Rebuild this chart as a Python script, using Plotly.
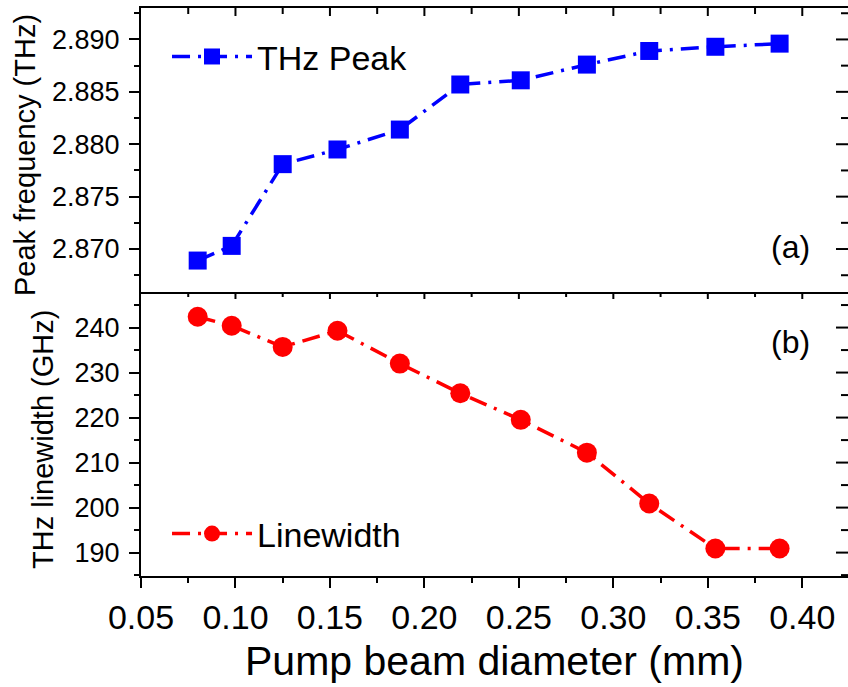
import plotly.graph_objects as go

# ---- data ----
diameter_mm = [0.080, 0.098, 0.125, 0.154, 0.187, 0.219, 0.251, 0.286, 0.319, 0.354, 0.388]
peak_thz = [2.8689, 2.8703, 2.8781, 2.8795, 2.8814, 2.8857, 2.8861, 2.8876, 2.8889, 2.8893, 2.8896]
linewidth_ghz = [242.4, 240.4, 235.7, 239.3, 232.0, 225.4, 219.5, 212.2, 200.9, 190.9, 190.9]

x_ticks = [0.05, 0.10, 0.15, 0.20, 0.25, 0.30, 0.35, 0.40]
x_tick_labels = ["0.05", "0.10", "0.15", "0.20", "0.25", "0.30", "0.35", "0.40"]
peak_ticks = [2.870, 2.875, 2.880, 2.885, 2.890]
peak_tick_labels = ["2.870", "2.875", "2.880", "2.885", "2.890"]
lw_ticks = [190, 200, 210, 220, 230, 240]

x_range = [0.05, 0.4242]
peak_range = [2.8659, 2.8930]
lw_range = [184.8, 247.9]

FONT = "Arial, Liberation Sans, Helvetica, sans-serif"
BLUE = "#0000FF"
RED = "#FF0000"
DASH = "18px,8px,3px,8px"

# plot-area geometry in px (used only to convert tick lengths to domain fractions)
PLOT_W = 707
PANEL_H = 284


def minor_between(ticks, rng):
    step = ticks[1] - ticks[0]
    vals = [ticks[0] - step / 2] + [t + step / 2 for t in ticks]
    return [v for v in vals if rng[0] < v < rng[1]]


fig = go.Figure()
fig.add_trace(go.Scatter(
    x=diameter_mm, y=peak_thz, xaxis="x2", yaxis="y2", name="THz Peak",
    mode="lines+markers", legend="legend",
    line=dict(color=BLUE, width=3.5, dash=DASH),
    marker=dict(symbol="square", size=18, color=BLUE),
))
fig.add_trace(go.Scatter(
    x=diameter_mm, y=linewidth_ghz, xaxis="x", yaxis="y", name="Linewidth",
    mode="lines+markers", legend="legend2",
    line=dict(color=RED, width=3.5, dash=DASH),
    marker=dict(symbol="circle", size=20, color=RED),
))

TK = dict(tickcolor="black", tickwidth=2)

# inward tick marks on the top and right edges, and at the panel boundary
tick_shapes = []
LINE = dict(color="black", width=2)
x_minor = minor_between(x_ticks, x_range)
for xs, ln in [(x_ticks, 8), (x_minor, 6)]:
    for v in xs:
        if x_range[0] < v < x_range[1]:
            # top edge of upper panel, pointing down
            tick_shapes.append(dict(type="line", xref="x2", yref="y2 domain", x0=v, x1=v,
                                    y0=1, y1=1 - ln / PANEL_H, line=LINE, layer="above"))
            # top edge of lower panel (boundary), pointing down
            tick_shapes.append(dict(type="line", xref="x", yref="y domain", x0=v, x1=v,
                                    y0=1, y1=1 - (ln - 1) / PANEL_H, line=LINE, layer="above"))
for ticks, rng, xr, yr in [(peak_ticks, peak_range, "x2 domain", "y2"),
                           (lw_ticks, lw_range, "x domain", "y")]:
    for vals, ln in [(ticks, 12), (minor_between(ticks, rng), 7)]:
        for v in vals:
            tick_shapes.append(dict(type="line", xref=xr, yref=yr, x0=1, x1=1 - ln / PLOT_W,
                                    y0=v, y1=v, line=LINE, layer="above"))

fig.update_layout(
    width=848, height=687,
    margin=dict(l=141, r=0, t=8, b=111),
    paper_bgcolor="white", plot_bgcolor="white",
    font=dict(family=FONT, color="black"),
    showlegend=True,
    xaxis=dict(range=x_range, tickmode="array", tickvals=x_ticks, ticktext=x_tick_labels,
               showgrid=False, zeroline=False, **TK,
               domain=[0, 1], anchor="y", side="bottom", ticks="outside", ticklen=10,
               minor=dict(dtick=0.025, tick0=0.05, ticks="outside", ticklen=5, **TK),
               showline=True, linewidth=2, linecolor="black",
               tickfont=dict(size=34, family=FONT),
               title=dict(text="Pump beam diameter (mm)", font=dict(size=41, family=FONT), standoff=12)),
    xaxis2=dict(range=x_range, matches="x", domain=[0, 1], anchor="y2", side="bottom",
                showticklabels=False, ticks="", showgrid=False, zeroline=False,
                showline=True, linewidth=2, linecolor="black", mirror=True),
    yaxis=dict(domain=[0, 0.5], anchor="x", range=lw_range, tickmode="array", tickvals=lw_ticks,
               showgrid=False, zeroline=False, ticks="outside", ticklen=10, **TK,
               minor=dict(dtick=5, tick0=185, ticks="outside", ticklen=5, **TK),
               showline=True, linewidth=2, linecolor="black", ticklabelstandoff=4,
               tickfont=dict(size=27, family=FONT)),
    yaxis2=dict(domain=[0.5, 1], anchor="x2", range=peak_range, tickmode="array", tickvals=peak_ticks,
                ticktext=peak_tick_labels,
                showgrid=False, zeroline=False, ticks="outside", ticklen=10, **TK,
                minor=dict(dtick=0.0025, tick0=2.8675, ticks="outside", ticklen=5, **TK),
                showline=True, linewidth=2, linecolor="black", ticklabelstandoff=4,
                tickfont=dict(size=27, family=FONT)),
    legend=dict(x=0.0368, y=0.965, xanchor="left", yanchor="top", bgcolor="rgba(0,0,0,0)",
                font=dict(size=34, family=FONT), itemwidth=80),
    legend2=dict(x=0.0368, y=0.125, xanchor="left", yanchor="top", bgcolor="rgba(0,0,0,0)",
                 font=dict(size=34, family=FONT), itemwidth=80),
    shapes=tick_shapes,
    annotations=[
        dict(text="(a)", x=0.918, y=0.579, xref="paper", yref="paper", showarrow=False,
             xanchor="center", yanchor="middle", font=dict(size=32, family=FONT)),
        dict(text="(b)", x=0.918, y=0.412, xref="paper", yref="paper", showarrow=False,
             xanchor="center", yanchor="middle", font=dict(size=32, family=FONT)),
        # y-axis titles
        dict(text="Peak frequency (THz)", x=(25 - 141) / 707, y=(576 - 155) / 568,
             xref="paper", yref="paper", showarrow=False, textangle=-90,
             xanchor="center", yanchor="middle", font=dict(size=29, family=FONT)),
        dict(text="THz linewidth (GHz)", x=(43 - 141) / 707, y=(576 - 439) / 568,
             xref="paper", yref="paper", showarrow=False, textangle=-90,
             xanchor="center", yanchor="middle", font=dict(size=29, family=FONT)),
    ],
)

fig.write_html("out.html")
